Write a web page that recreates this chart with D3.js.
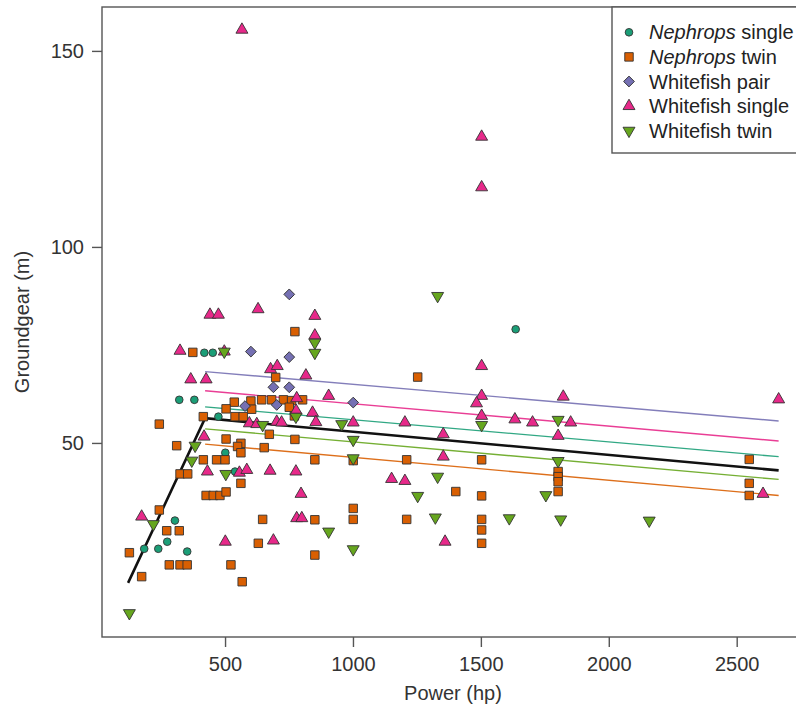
<!DOCTYPE html>
<html><head><meta charset="utf-8">
<script src="https://cdn.jsdelivr.net/npm/d3@7"></script>
<style>body{margin:0;background:#fff}svg{display:block}</style>
</head><body><svg id="c" width="796" height="712"></svg>
<script>
const nephropsSingle = [[419,73.0],[452,73.0],[321,61.0],[380,61.0],[474,56.7],[501,47.5],[539,42.7],[304,30.2],[274,24.8],[184,23.0],[239,23.0],[352,22.3],[1636,79.0]];
const nephropsTwin = [[773,78.4],[374,73.1],[698,66.7],[536,60.4],[601,60.7],[643,61.0],[682,61.0],[728,61.0],[760,60.8],[803,61.0],[504,58.7],[604,58.6],[751,59.1],[415,56.7],[539,56.7],[571,56.7],[771,56.9],[243,54.8],[673,52.2],[504,51.0],[773,50.9],[311,49.3],[562,49.9],[549,49.1],[562,47.5],[653,48.8],[415,45.7],[467,45.7],[500,45.7],[851,45.7],[324,42.1],[354,42.1],[562,39.7],[426,36.6],[454,36.6],[480,36.6],[504,37.5],[243,32.9],[272,27.6],[321,27.6],[647,30.5],[851,30.4],[630,24.4],[126,22.0],[282,18.9],[324,18.9],[352,18.9],[523,18.9],[851,21.4],[174,15.9],[567,14.6],[1253,66.8],[1001,45.5],[1210,45.7],[1503,45.7],[1802,42.7],[1802,41.4],[1802,40.1],[1802,37.6],[1402,37.6],[1503,36.5],[1001,33.3],[1001,30.5],[1210,30.5],[1503,30.5],[1503,27.8],[1503,24.4],[2549,45.8],[2549,39.7],[2549,36.6]];
const whitefishPair = [[751,87.9],[601,73.3],[751,71.9],[689,64.2],[751,64.2],[578,59.4],[702,59.7],[1001,60.3]];
const whitefishSingle = [[566,155.4],[441,82.7],[474,82.7],[629,84.1],[851,82.4],[851,77.4],[324,73.5],[497,73.3],[678,68.8],[704,69.6],[366,66.2],[426,66.2],[816,67.2],[905,62.0],[780,61.4],[778,58.2],[842,57.7],[595,55.0],[624,54.8],[702,55.4],[721,55.2],[855,55.3],[418,51.6],[431,42.7],[556,42.4],[585,43.1],[676,42.9],[777,42.7],[797,37.0],[174,31.2],[780,30.8],[800,30.8],[501,24.8],[689,25.1],[1503,128.1],[1503,115.2],[1503,69.6],[1503,62.0],[1483,60.1],[1503,56.9],[1822,61.8],[1633,56.0],[1702,55.2],[1851,55.2],[1001,55.2],[1203,55.2],[1353,52.2],[1802,51.8],[1353,46.5],[1151,40.8],[1203,40.3],[1360,24.8],[2664,61.1],[2603,37.0]];
const whitefishTwin = [[851,75.6],[851,73.0],[497,73.3],[777,56.7],[647,54.6],[956,54.8],[383,49.3],[370,45.5],[503,42.1],[220,29.3],[905,27.4],[126,6.6],[1331,87.5],[1503,54.6],[1802,55.9],[1001,50.8],[1001,46.1],[1802,45.4],[1331,41.4],[1253,36.5],[1754,36.7],[1322,31.0],[1611,30.8],[1812,30.5],[1001,22.9],[2158,30.2]];

// fitted lines (start/end values)
const fitX = [422, 2664];
const fitPair = [68.2, 55.6];
const fitWSingle = [63.3, 50.5];
const fitNSingle = [59.2, 46.5];
const fitWTwin = [53.6, 40.7];
const fitNTwin = [49.7, 36.6];
const overallFit = [[121,14.3],[422,56.3],[2664,43.0]];

const xTicks = [500,1000,1500,2000,2500];
const yTicks = [50,100,150];
const seriesNames = ["Nephrops single","Nephrops twin","Whitefish pair","Whitefish single","Whitefish twin"];
const colors = ["#1B9E77","#D95F02","#7570B3","#E7298A","#66A61E"];

const svg = d3.select("#c");
const FONT = "'Liberation Sans', Arial, Helvetica, sans-serif";
const L = 102, T = 7, R = 805, B = 637;
const x = d3.scaleLinear().domain([19, 2767]).range([L, R]);
const y = d3.scaleLinear().domain([0.5, 161.2]).range([B, T]);

// fit lines
const fits = [
  {vals: fitPair, c: colors[2]},
  {vals: fitWSingle, c: colors[3]},
  {vals: fitNSingle, c: colors[0]},
  {vals: fitWTwin, c: colors[4]},
  {vals: fitNTwin, c: colors[1]}
];
const line = d3.line().x(d => x(d[0])).y(d => y(d[1]));
fits.forEach(f => {
  svg.append("path").attr("d", line([[fitX[0], f.vals[0]], [fitX[1], f.vals[1]]]))
    .attr("stroke", f.c).attr("stroke-width", 1.4).attr("fill", "none").attr("opacity", 0.9);
});
svg.append("path").attr("d", line(overallFit)).attr("stroke", "#111")
  .attr("stroke-width", 2.6).attr("fill", "none");

// symbols
const symDefs = [
  {type: d3.symbolCircle, size: 46, rot: 0},
  {type: d3.symbolSquare, size: 72, rot: 0},
  {type: d3.symbolSquare, size: 58, rot: 45},
  {type: d3.symbolTriangle, size: 62, rot: 0},
  {type: d3.symbolTriangle, size: 62, rot: 180}
];
const allSeries = [nephropsSingle, nephropsTwin, whitefishPair, whitefishSingle, whitefishTwin];
allSeries.forEach((data, i) => {
  const s = symDefs[i];
  const path = d3.symbol().type(s.type).size(s.size)();
  svg.append("g").selectAll("path").data(data).join("path")
    .attr("d", path)
    .attr("transform", d => `translate(${x(d[0])},${y(d[1])}) rotate(${s.rot})`)
    .attr("fill", colors[i]).attr("stroke", "#333").attr("stroke-width", 0.9);
});

// frame
svg.append("rect").attr("x", L).attr("y", T).attr("width", R - L).attr("height", B - T)
  .attr("fill", "none").attr("stroke", "#555").attr("stroke-width", 1.4);

// axes
const xAxis = d3.axisBottom(x).tickValues(xTicks).tickSize(10).tickPadding(10).tickFormat(d3.format("d"));
const gx = svg.append("g").attr("transform", `translate(0,${B})`).call(xAxis);
gx.select(".domain").remove();
const yAxis = d3.axisLeft(y).tickValues(yTicks).tickSize(10).tickPadding(8);
const gy = svg.append("g").attr("transform", `translate(${L},0)`).call(yAxis);
gy.select(".domain").remove();
[gx, gy].forEach(g => {
  g.selectAll("line").attr("stroke", "#555").attr("stroke-width", 1.4);
  g.selectAll("text").attr("font-family", FONT).attr("font-size", 20).attr("fill", "#333");
});

svg.append("text").attr("x", 453).attr("y", 700).attr("text-anchor", "middle")
  .attr("font-family", FONT).attr("font-size", 20).attr("fill", "#333").text("Power (hp)");
svg.append("text").attr("transform", `translate(29,${(T + B) / 2}) rotate(-90)`).attr("text-anchor", "middle")
  .attr("font-family", FONT).attr("font-size", 20).attr("fill", "#333").text("Groundgear (m)");

// legend
svg.append("rect").attr("x", 612).attr("y", T).attr("width", 230).attr("height", 146)
  .attr("fill", "#fff").attr("stroke", "#555").attr("stroke-width", 1.4);
seriesNames.forEach((name, i) => {
  const cy = 32.3 + i * 24.6;
  const s = symDefs[i];
  svg.append("path").attr("d", d3.symbol().type(s.type).size(s.size)())
    .attr("transform", `translate(629,${cy}) rotate(${s.rot})`)
    .attr("fill", colors[i]).attr("stroke", "#333").attr("stroke-width", 0.9);
  const t = svg.append("text").attr("x", 649).attr("y", cy + 7)
    .attr("font-family", FONT).attr("font-size", 20).attr("fill", "#222");
  const parts = name.split(" ");
  t.append("tspan").attr("font-style", parts[0] === "Nephrops" ? "italic" : "normal").text(parts[0]);
  t.append("tspan").text(" " + parts.slice(1).join(" "));
});
</script></body></html>
